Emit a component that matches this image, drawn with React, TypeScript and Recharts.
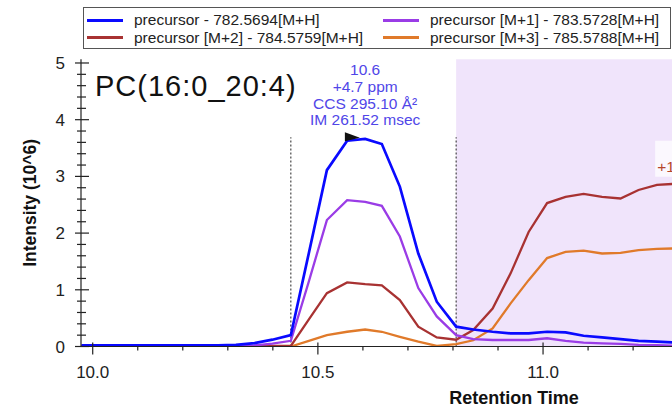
import { LineChart, Line, XAxis, YAxis, ReferenceArea, ReferenceLine, ReferenceDot, Legend, Customized } from 'recharts';

const FONT = '"Liberation Sans", Arial, sans-serif';

// retention time (min) of each scan
const retentionTime = [
  9.975, 10.034, 10.075, 10.116, 10.156, 10.197, 10.237, 10.278, 10.318, 10.359, 10.399,
  10.44, 10.48, 10.52, 10.565, 10.605, 10.642, 10.682, 10.723, 10.764, 10.807,
  10.845, 10.888, 10.928, 10.968, 11.009, 11.05, 11.09, 11.131, 11.172, 11.212, 11.253, 11.294, 11.335,
];

// intensities (10^6)
const precursorMH = [
  0.02, 0.02, 0.02, 0.02, 0.02, 0.02, 0.02, 0.02, 0.03, 0.06, 0.12,
  0.2, 1.65, 3.11, 3.63, 3.66, 3.57, 2.82, 1.64, 0.79, 0.35,
  0.3, 0.26, 0.23, 0.23, 0.26, 0.25, 0.19, 0.16, 0.13, 0.1, 0.085, 0.07, 0.06,
];
const precursorM1 = [
  0.01, 0.01, 0.01, 0.01, 0.01, 0.01, 0.01, 0.01, 0.01, 0.02, 0.05,
  0.1, 1.15, 2.23, 2.58, 2.55, 2.48, 1.94, 1.03, 0.53, 0.2,
  0.13, 0.115, 0.115, 0.115, 0.145, 0.1, 0.07, 0.055, 0.045, 0.03, 0.025, 0.01, 0.01,
];
const precursorM2 = [
  0, 0, 0, 0, 0, 0, 0, 0, 0, 0, 0.01,
  0.01, 0.48, 0.94, 1.13, 1.1, 1.08, 0.82, 0.35, 0.16, 0.12,
  0.29, 0.67, 1.29, 2.02, 2.53, 2.64, 2.69, 2.64, 2.61, 2.76, 2.85, 2.87, 2.88,
];
const precursorM3 = [
  0, 0, 0, 0, 0, 0, 0, 0, 0, 0, 0,
  0, 0.1, 0.2, 0.26, 0.3, 0.26, 0.17, 0.085, 0.01, 0.04,
  0.11, 0.32, 0.76, 1.17, 1.56, 1.67, 1.69, 1.64, 1.65, 1.7, 1.72, 1.73, 1.74,
];

const seriesKeys = ['mh', 'm1', 'm2', 'm3'];
const seriesNames = [
  'precursor - 782.5694[M+H]',
  'precursor [M+1] - 783.5728[M+H]',
  'precursor [M+2] - 784.5759[M+H]',
  'precursor [M+3] - 785.5788[M+H]',
];
const seriesColors = ['#0a0aff', '#9a3ce6', '#a83232', '#e07a2a'];

const xTicks = [10.0, 10.1, 10.2, 10.3, 10.4, 10.5, 10.6, 10.7, 10.8, 10.9, 11.0, 11.1, 11.2, 11.3, 11.4];
const xMajor = [10.0, 10.5, 11.0];
const yTicks = [0, 0.2, 0.4, 0.6, 0.8, 1, 1.2, 1.4, 1.6, 1.8, 2, 2.2, 2.4, 2.6, 2.8, 3, 3.2, 3.4, 3.6, 3.8, 4, 4.2, 4.4, 4.6, 4.8, 5];

const peakStart = 10.44;
const peakEnd = 10.807;
const peakApex = 3.69;
const annotationLines = ['10.6', '+4.7 ppm', 'CCS 295.10 Å²', 'IM 261.52 msec'];

const data = retentionTime.map((rt, i) => ({
  rt,
  mh: precursorMH[i],
  m1: precursorM1[i],
  m2: precursorM2[i],
  m3: precursorM3[i],
}));

const X_DOMAIN: [number, number] = [9.974, 11.897];
const Y_DOMAIN: [number, number] = [0, 5.065];

function XTick(props: any) {
  const { x, y, payload } = props;
  const v = payload.value;
  const major = xMajor.some((m) => Math.abs(m - v) < 1e-6);
  return (
    <g>
      <line x1={x} x2={x} y1={major ? y - 4 : y} y2={major ? y + 8 : y + 4} stroke="#222" strokeWidth={1.2} />
      {major && (
        <text x={x} y={y + 31} textAnchor="middle" fontSize={17} fontFamily={FONT} fill="#222">
          {v.toFixed(1)}
        </text>
      )}
    </g>
  );
}

function YTick(props: any) {
  const { x, y, payload } = props;
  const v = payload.value;
  const major = Math.abs(v - Math.round(v)) < 1e-6;
  return (
    <g>
      <line x1={major ? x - 6 : x - 4} x2={major ? x + 8 : x + 5} y1={y} y2={y} stroke="#222" strokeWidth={1.2} />
      {major && (
        <text x={x - 16} y={y + 6} textAnchor="end" fontSize={17} fontFamily={FONT} fill="#222">
          {Math.round(v)}
        </text>
      )}
    </g>
  );
}

function XTitle(props: any) {
  const { viewBox } = props;
  return (
    <text x={viewBox.x + viewBox.width / 2} y={viewBox.y + 57.5} textAnchor="middle" fontSize={18} fontWeight="bold" fontFamily={FONT} fill="#111">
      Retention Time
    </text>
  );
}

function YTitle(props: any) {
  const { viewBox } = props;
  const cx = viewBox.x + 36.5;
  const cy = viewBox.y + viewBox.height / 2;
  return (
    <text x={cx} y={cy} transform={`rotate(-90 ${cx} ${cy})`} textAnchor="middle" fontSize={17.5} fontWeight="bold" fontFamily={FONT} fill="#111">
      Intensity (10^6)
    </text>
  );
}

function LegendBox() {
  const pos = [
    { left: 0, top: 12 },
    { left: 296, top: 12 },
    { left: 0, top: 29.5 },
    { left: 296, top: 29.5 },
  ];
  return (
    <div style={{ position: 'relative', width: 588, height: 42, boxSizing: 'border-box', border: '1px solid #555', background: '#fff', fontFamily: FONT, fontSize: 15.5, color: '#222' }}>
      {seriesNames.map((name, i) => (
        <div key={name} style={{ position: 'absolute', left: pos[i].left, top: pos[i].top - 10, height: 20, display: 'flex', alignItems: 'center', whiteSpace: 'nowrap' }}>
          <div style={{ marginLeft: 3, width: 36, height: 3, background: seriesColors[i] }} />
          <span style={{ marginLeft: 11 }}>{name}</span>
        </div>
      ))}
    </div>
  );
}

export default function App() {
  return (
    <div style={{ position: 'fixed', left: 0, top: 0, width: 672, height: 412, overflow: 'hidden', background: '#fff' }}>
      <LineChart width={947} height={412} data={data} margin={{ top: 59.3, right: 0, bottom: 0, left: 0 }}>
        <ReferenceArea x1={peakEnd} x2={X_DOMAIN[1]} y1={0} y2={Y_DOMAIN[1]} fill="#f0e4fb" fillOpacity={1} stroke="none" />
        <XAxis
          dataKey="rt"
          type="number"
          domain={X_DOMAIN}
          ticks={xTicks}
          interval={0}
          allowDataOverflow
          height={65.5}
          tick={<XTick />}
          tickLine={false}
          tickSize={0}
          tickMargin={0}
          axisLine={{ stroke: '#222', strokeWidth: 1.2 }}
          label={<XTitle />}
        />
        <YAxis
          type="number"
          domain={Y_DOMAIN}
          ticks={yTicks}
          interval={0}
          allowDataOverflow
          width={81}
          tick={<YTick />}
          tickLine={false}
          tickSize={0}
          tickMargin={0}
          axisLine={{ stroke: '#222', strokeWidth: 1.2 }}
          label={<YTitle />}
        />
        <ReferenceLine segment={[{ x: peakStart, y: 0 }, { x: peakStart, y: peakApex }]} stroke="#222" strokeDasharray="2 2" />
        <ReferenceLine segment={[{ x: peakEnd, y: 0 }, { x: peakEnd, y: peakApex }]} stroke="#222" strokeDasharray="2 2" />
        {[3, 2, 1, 0].map((s) => (
          <Line
            key={seriesKeys[s]}
            dataKey={seriesKeys[s]}
            name={seriesNames[s]}
            type="linear"
            stroke={seriesColors[s]}
            strokeWidth={s === 0 ? 2.7 : 2.3}
            dot={false}
            activeDot={false}
            isAnimationActive={false}
          />
        ))}
        <ReferenceDot
          x={10.56}
          y={3.62}
          r={0}
          shape={(p: any) => (
            <polygon points={`${p.cx},${p.cy - 9} ${p.cx},${p.cy} ${p.cx + 15},${p.cy - 3.5}`} fill="#111" />
          )}
        />
        <ReferenceDot
          x={10.605}
          y={4.0}
          r={0}
          shape={(p: any) => (
            <g>
              {annotationLines.map((t, i) => (
                <text key={t} x={p.cx} y={p.cy + 5.5 - (annotationLines.length - 1 - i) * 16.6} textAnchor="middle" fontSize={15.5} fontFamily={FONT} fill="#5046e8">
                  {t}
                </text>
              ))}
            </g>
          )}
        />
        <ReferenceDot
          x={11.249}
          y={3.17}
          r={0}
          shape={(p: any) => (
            <g>
              <rect x={p.cx} y={p.cy - 26} width={90} height={36} fill="#fff" fillOpacity={0.75} />
              <text x={p.cx + 2} y={p.cy + 5.5} fontSize={15.5} fontFamily={FONT} fill="#b5452b">
                +1.8 ppm
              </text>
            </g>
          )}
        />
        <Customized
          component={() => (
            <text x={95} y={96} fontSize={29} letterSpacing={1} fontFamily={FONT} fill="#111">
              PC(16:0_20:4)
            </text>
          )}
        />
        <Legend
          layout="horizontal"
          verticalAlign="middle"
          align="center"
          wrapperStyle={{ left: 83, top: 7, width: 588, height: 42 }}
          content={() => <LegendBox />}
        />
      </LineChart>
    </div>
  );
}
